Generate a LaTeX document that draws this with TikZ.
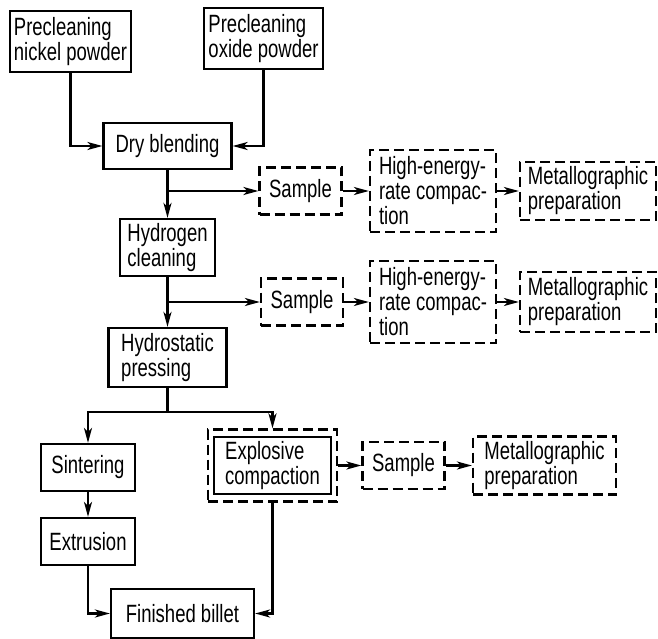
\documentclass[tikz,border=0pt]{standalone}
\usepackage{fontspec}
\setmainfont{Liberation Sans}[FakeStretch=0.74]
\usetikzlibrary{arrows.meta}

\tikzset{
  box/.style={draw, line width=2.2pt, align=left, inner sep=2pt,
    font=\fontsize{25}{25}\selectfont},
  dbox/.style={box, dash pattern=on 10pt off 5pt},
  conn/.style={->, line width=2.4pt},
}

\begin{document}
\begin{tikzpicture}[x=1pt,y=-1pt,>={Stealth[length=15pt,width=8pt,inset=4pt]}]
\useasboundingbox (0,0) rectangle (658,639);

\node[box,minimum width=121pt,minimum height=61pt]   (nickel) at (70.5,41.5)   {Precleaning\\nickel powder};
\node[box,minimum width=119pt,minimum height=61pt]   (oxide)[node distance=193pt,right of=nickel,yshift=3pt]   {Precleaning\\oxide powder};
\node[box,minimum width=128pt,minimum height=46pt]   (dry)[node distance=104.5pt,below of=nickel,xshift=97pt]   {Dry blending};
\node[box,minimum width=95pt,minimum height=57pt]   (hyd)[node distance=101.5pt,below of=dry]   {Hydrogen\\cleaning};
\node[box,minimum width=118pt,minimum height=59pt]   (hst)[node distance=110pt,below of=hyd]   {Hydrostatic\\pressing};
\node[box,minimum width=94pt,minimum height=47pt]   (sint)[node distance=110pt,below of=hst,xshift=-79.5pt]   {Sintering};
\node[box,minimum width=94pt,minimum height=47pt]   (extr)[node distance=74pt,below of=sint]   {Extrusion};
\node[box,minimum width=143pt,minimum height=49pt]   (billet)[node distance=72pt,below of=extr,xshift=94.5pt]   {Finished billet};

% explosive branch
\node[box,minimum width=117pt,minimum height=57pt]   (expl)[node distance=184.5pt,right of=sint,yshift=2pt]   {Explosive\\compaction};
\node[dbox,minimum width=129pt,minimum height=72pt]   (explo) at (expl)   {};
\node[dbox,minimum width=82pt,minimum height=47pt]   (samp3)[node distance=131pt,right of=expl]   {Sample};
\node[dbox,minimum width=143pt,minimum height=58pt]   (meta3)[node distance=141pt,right of=samp3]   {Metallographic\\preparation};

% sample rows
\node[dbox,minimum width=82pt,minimum height=47pt]   (samp1)[node distance=133pt,right of=dry,yshift=-45pt]   {Sample};
\node[dbox,minimum width=126pt,minimum height=82pt]   (herc1)[node distance=132.5pt,right of=samp1]   {High-energy-\\rate compac-\\tion};
\node[dbox,minimum width=136pt,minimum height=58pt]   (meta1)[node distance=155pt,right of=herc1]   {Metallographic\\preparation};
\node[dbox,minimum width=82pt,minimum height=47pt]   (samp2)[node distance=134.5pt,right of=hyd,yshift=-54.5pt]   {Sample};
\node[dbox,minimum width=126pt,minimum height=82pt]   (herc2)[node distance=131pt,right of=samp2]   {High-energy-\\rate compac-\\tion};
\node[dbox,minimum width=136pt,minimum height=60pt]   (meta2)[node distance=155pt,right of=herc2]   {Metallographic\\preparation};

\coordinate (b1) at (dry.south |- samp1);
\coordinate (b2) at (hyd.south |- samp2);
\path (hst.south) ++(0,24) coordinate (split);

	\path[conn] (dry)  edge 	(hyd)
						(hyd)  edge 	(hst)
						(sint)  edge 	(extr)
						(b1)  edge 	(samp1)
						(samp1)  edge 	(herc1)
						(herc1)  edge 	(meta1)
						(b2)  edge 	(samp2)
						(samp2)  edge 	(herc2)
						(herc2)  edge 	(meta2)
						(explo)  edge 	(samp3)
						(samp3)  edge 	(meta3);

	\draw[conn] (nickel) |- (dry);
	\draw[conn] (oxide) |- (dry);
	\draw[conn] (hst) -- (split) -| (sint);
	\draw[conn] (split) -| (explo);
	\draw[conn] (extr) |- (billet);
	\draw[conn] (explo) |- (billet);

\end{tikzpicture}
\end{document}
